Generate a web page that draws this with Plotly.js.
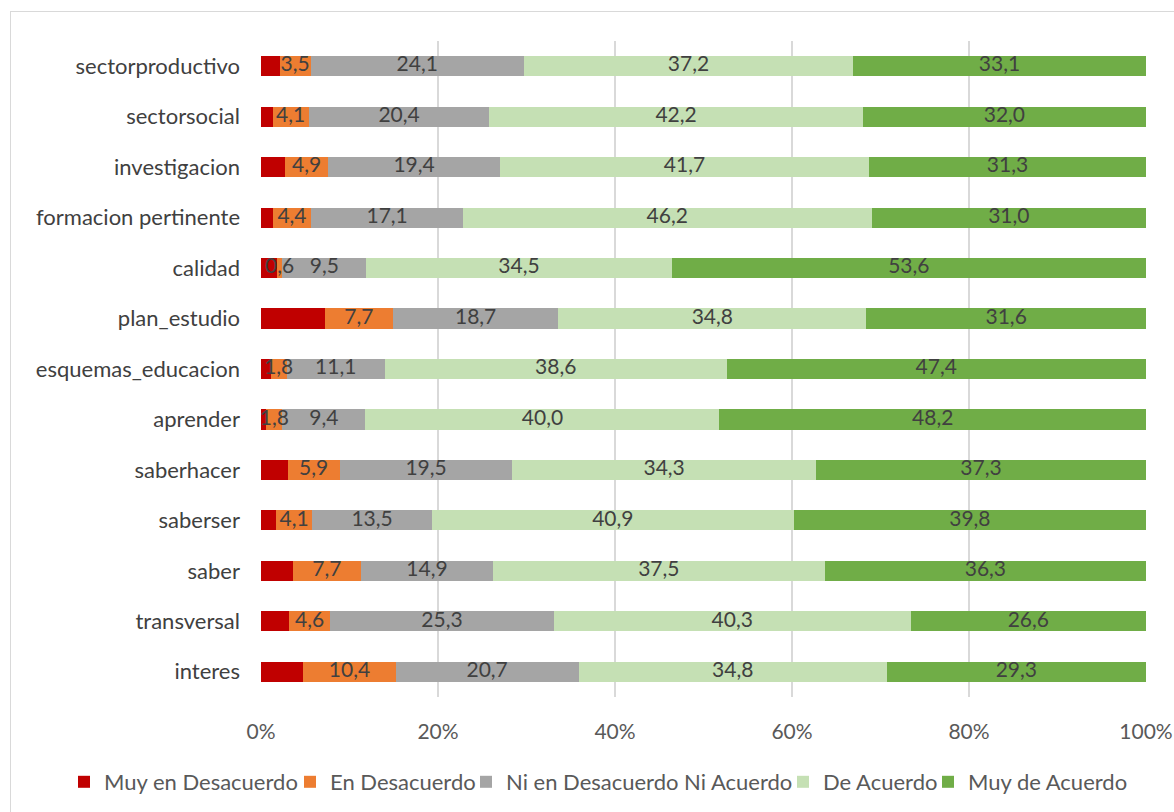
<!DOCTYPE html>
<html><head><meta charset="utf-8">
<script src="https://cdn.plot.ly/plotly-3.0.1.min.js"></script>
<style>
html,body{margin:0;padding:0;background:#fff;}
#wrap{position:relative;width:1174px;height:812px;overflow:hidden;}
#chart{position:absolute;left:0;top:0;width:1174px;height:812px;}
#frame{position:absolute;left:10px;top:11px;width:1300px;height:900px;border-left:1.5px solid #d9d9d9;border-top:1.5px solid #d9d9d9;pointer-events:none;}
</style></head>
<body><div id="wrap"><div id="chart"></div><div id="frame"></div></div>
<script>
const categories = ["sectorproductivo","sectorsocial","investigacion","formacion pertinente","calidad","plan_estudio","esquemas_educacion","aprender","saberhacer","saberser","saber","transversal","interes"];
const muyDesacuerdo = [2.1,1.3,2.7,1.3,1.8,7.2,1.1,0.6,3.0,1.7,3.6,3.2,4.8];
const enDesacuerdo  = [3.5,4.1,4.9,4.4,0.6,7.7,1.8,1.8,5.9,4.1,7.7,4.6,10.4];
const niNi          = [24.1,20.4,19.4,17.1,9.5,18.7,11.1,9.4,19.5,13.5,14.9,25.3,20.7];
const deAcuerdo     = [37.2,42.2,41.7,46.2,34.5,34.8,38.6,40.0,34.3,40.9,37.5,40.3,34.8];
const muyAcuerdo    = [33.1,32.0,31.3,31.0,53.6,31.6,47.4,48.2,37.3,39.8,36.3,26.6,29.3];
const seriesNames = ["Muy en Desacuerdo","En Desacuerdo","Ni en Desacuerdo Ni Acuerdo","De Acuerdo","Muy de Acuerdo"];
const tickVals = [0,20,40,60,80,100];
const tickText = ["0%","20%","40%","60%","80%","100%"];

const colors = ["#c00000","#ed7d31","#a5a5a5","#c5e0b4","#70ad47"];
const data = [muyDesacuerdo,enDesacuerdo,niNi,deAcuerdo,muyAcuerdo];
const fmt = v => v.toFixed(1).replace('.', ',');
const FONT = "Lato, 'Open Sans', sans-serif";
const legendIds = ['legend','legend2','legend3','legend4','legend5'];
const legendX = [82,308,484,801,946];

const traces = data.map((vals,i)=>({
  type:'bar', orientation:'h', name:seriesNames[i],
  y:categories, x:vals,
  marker:{color:colors[i], line:{width:0}},
  textposition:'none',
  legend: legendIds[i],
  hoverinfo:'skip'
}));

// data labels on top of all bars (positions derived from the stacked values)
const cum = categories.map(()=>0);
data.forEach((vals,i)=>{
  const mids = vals.map((v,j)=>{ const m = cum[j] + v/2; cum[j] += v; return m; });
  if (i===0) return;
  traces.push({
    type:'scatter', mode:'text', x:mids, y:categories,
    text: vals.map(fmt), textposition:'middle center',
    textfont:{family:FONT,size:21,color:'#404040'},
    showlegend:false, cliponaxis:false, hoverinfo:'skip'
  });
});

const layout = {
  width:1174, height:812,
  barmode:'stack', bargap:0.6,
  paper_bgcolor:'#fff', plot_bgcolor:'#fff',
  margin:{l:261,r:28,t:41,b:115, autoexpand:false},
  font:{family:FONT,size:21,color:'#595959'},
  xaxis:{range:[0,100], tickvals:tickVals, ticktext:tickText,
    showgrid:true, gridcolor:'#d9d9d9', gridwidth:1.5, zeroline:false,
    showline:false, ticks:'', tickfont:{family:FONT,size:21,color:'#595959'}, ticklabelstandoff:20, fixedrange:true},
  yaxis:{type:'category', categoryorder:'array', categoryarray:categories,
    range:[categories.length-0.5, -0.5],
    showgrid:false, zeroline:false, showline:false, ticks:'', ticklabelstandoff:20,
    tickfont:{family:FONT,size:22,color:'#404040'}, fixedrange:true},
  showlegend:true
};
legendIds.forEach((id,i)=>{
  layout[id] = {orientation:'h', xref:'container', yref:'container',
    x:(legendX[i]-18)/1174, xanchor:'left', y:(812-782)/812, yanchor:'middle',
    font:{family:FONT,size:22,color:'#595959'}, itemwidth:30, bgcolor:'rgba(0,0,0,0)'};
});
Plotly.newPlot('chart', traces, layout, {displayModeBar:false, staticPlot:true});
</script></body></html>
